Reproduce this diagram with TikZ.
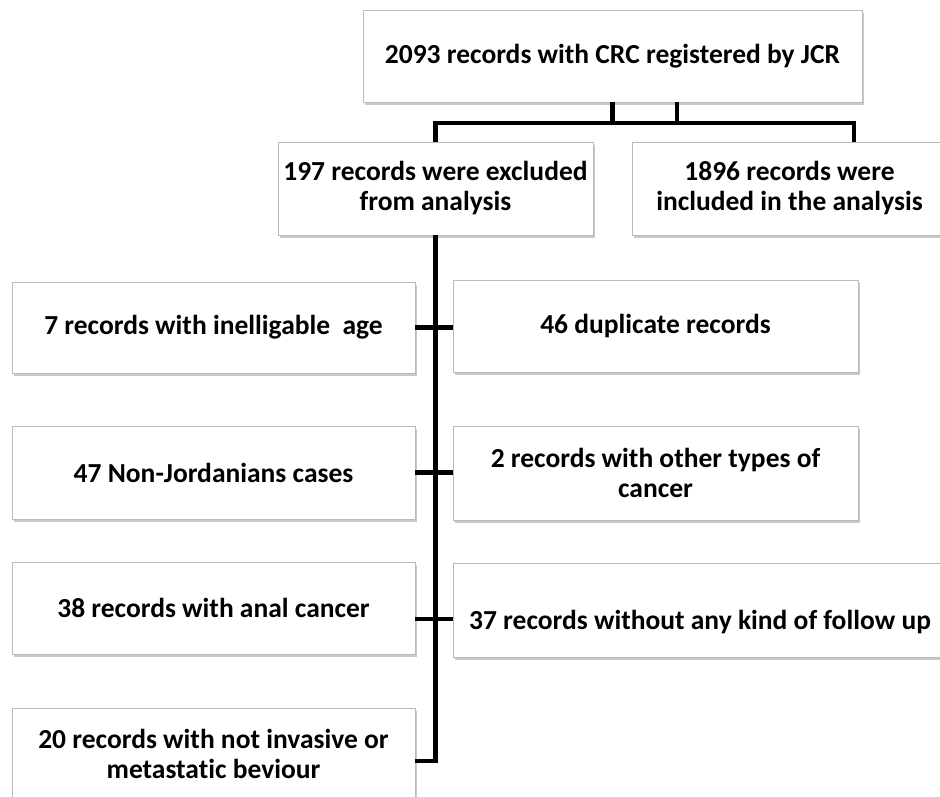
\documentclass[tikz,border=0pt]{standalone}
\usepackage{fontspec}
\setmainfont{Carlito}[Ligatures={NoCommon}]
\usetikzlibrary{shadows,calc}
\begin{document}
\begin{tikzpicture}[x=1pt,y=-1pt,
  box/.style={draw=black!27, line width=0.8pt, fill=white, align=center,
    inner sep=0pt, outer sep=0pt,
    font=\fontsize{27.5}{30}\selectfont\bfseries,
    drop shadow={shadow xshift=1.5pt, shadow yshift=-3pt, opacity=0.35, fill=black!60}},
  conn/.style={line width=4.5pt, draw=black}]
\useasboundingbox (0,0) rectangle (940,796);
\clip (0,0) rectangle (940,796);
\fill[white] (0,0) rectangle (940,796);

% boxes
\node[box, minimum width=499pt, minimum height=92pt] (top) at (612.5,56)
  {2093 records with CRC registered by JCR};
\node[box, minimum width=315pt, minimum height=93pt] (excl) at (435.5,188.5)
  {197 records were excluded\\from analysis};
\node[box, minimum width=315pt, minimum height=93pt] (incl) at (789.5,188.5)
  {1896 records were\\included in the analysis};

\node[box, minimum width=403pt, minimum height=91pt] (L1) at (213.5,327.5)
  {7 records with inelligable\ \ age};
\node[box, minimum width=405pt, minimum height=92pt] (R1) at (655.5,326)
  {46 duplicate records};
\node[box, minimum width=403pt, minimum height=93pt] (L2) at (213.5,472.5)
  {47 Non-Jordanians cases};
\node[box, minimum width=405pt, minimum height=94pt] (R2) at (655.5,473)
  {2 records with other types of\\cancer};
\node[box, minimum width=403pt, minimum height=92pt] (L3) at (213.5,608)
  {38 records with anal cancer};
\node[box, minimum width=494pt, minimum height=94pt, text height=44pt, text depth=6pt] (R3) at (700,610)
  {37 records without any kind of follow up};
\node[box, minimum width=403pt, minimum height=92pt] (L4) at (213.5,754)
  {20 records with not invasive or\\metastatic beviour};

% connectors
\coordinate (stub2) at ($(top.south)+(64.5,0)$);
\coordinate (inclDrop) at ($(incl.north west)+(222,0)$);
\draw[conn] (top.south) -- ++(0,21);
\draw[conn] (stub2) -- ++(0,21);
\draw[conn] (excl.north) |- ($(inclDrop)+(0,-19)$) -- (inclDrop);

\coordinate (end4) at ($(L4.east)+(0,7)$);
\draw[conn] (excl.south) |- (end4);
\draw[conn] (L1.east) -- (R1.west |- L1.east);
\draw[conn] (L2.east) -- (R2.west |- L2.east);
\coordinate (t3) at ($(L3.east)+(0,11)$);
\draw[conn] (t3) -- (R3.west |- t3);
\end{tikzpicture}
\end{document}
